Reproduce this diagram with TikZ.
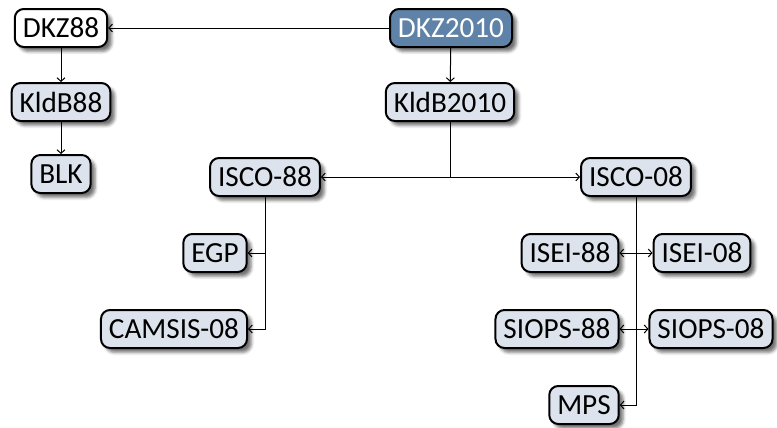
\documentclass[tikz,border=0pt]{standalone}
\usepackage{fontspec}
\setmainfont{Carlito}
\usetikzlibrary{arrows.meta,shadows,shadows.blur}
\definecolor{boxfill}{HTML}{DCE3EC}
\definecolor{topfill}{HTML}{5F83A8}
\tikzset{
  box/.style={draw=black, line width=1pt, rounded corners=4.5pt, fill=boxfill,
    minimum height=19pt, inner xsep=4pt, inner ysep=0pt,
    font=\fontsize{14.6}{16}\selectfont,
    blur shadow={shadow xshift=2.2pt, shadow yshift=-2.2pt, shadow blur radius=1.5pt, shadow opacity=55}},
  whitebox/.style={box, fill=white},
  topbox/.style={box, fill=topfill, text=white},
  link/.style={line width=0.5pt, -{Straight Barb[length=1.8pt,width=4pt]}}
}
\begin{document}
\begin{tikzpicture}[x=0.5pt,y=-0.5pt]
\useasboundingbox (0,0) rectangle (777,428);
\node[whitebox] (dkz88) at (61,28) {DKZ88};
\node[topbox] (dkz2010) at (451,28) {DKZ2010};
\node[box] (kldb88) at (61,102) {KldB88};
\node[box] (blk) at (61,174) {BLK};
\node[box] (kldb2010) at (450,102) {KldB2010};
\node[box] (isco88) at (265,177) {ISCO-88};
\node[box] (isco08) at (636,177) {ISCO-08};
\node[box] (egp) at (215,253) {EGP};
\node[box] (camsis) at (174,329) {CAMSIS-08};
\node[box] (isei88) at (570,253) {ISEI-88};
\node[box] (isei08) at (702,253) {ISEI-08};
\node[box] (siops88) at (557,329) {SIOPS-88};
\node[box] (siops08) at (711,329) {SIOPS-08};
\node[box] (mps) at (584,405) {MPS};

\draw[link] (dkz2010) -- (dkz88);
\draw[link] (dkz88) -- (kldb88);
\draw[link] (kldb88) -- (blk);
\draw[link] (dkz2010) -- (kldb2010);
\draw[link] (kldb2010.south) |- (isco88.east);
\draw[link] (kldb2010.south) |- (isco08.west);
\draw[link] (isco88.south) |- (egp.east);
\draw[link] (isco88.south) |- (camsis.east);
\draw[link] (isco08.south) |- (isei88.east);
\draw[link] (isco08.south) |- (isei08.west);
\draw[link] (isco08.south) |- (siops88.east);
\draw[link] (isco08.south) |- (siops08.west);
\draw[link] (isco08.south) |- (mps.east);
\end{tikzpicture}
\end{document}
